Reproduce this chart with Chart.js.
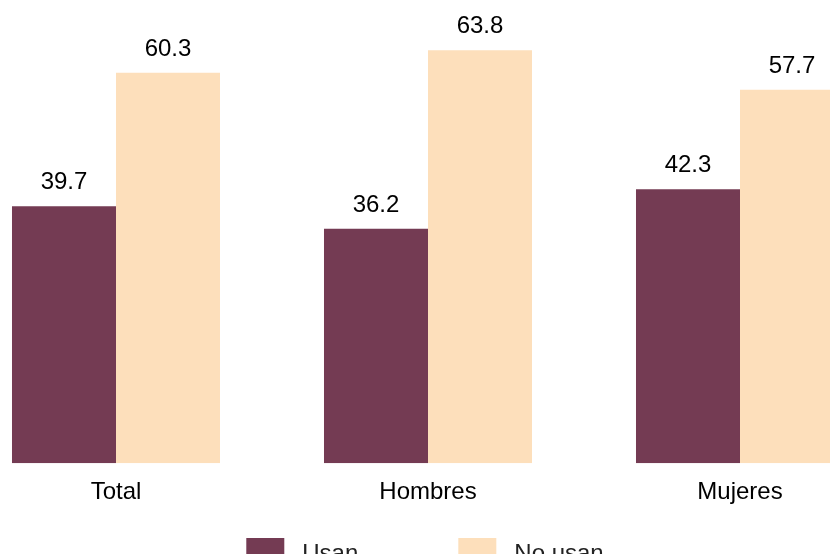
<!DOCTYPE html>
<html lang="es">
<head>
    <meta charset="UTF-8">
    <title>Usan / No usan</title>
    <script src="https://cdn.jsdelivr.net/npm/chart.js"></script>
    <style>
        html, body { margin: 0; padding: 0; background: #fff; overflow: hidden; }
        #wrap { width: 830px; height: 554px; overflow: hidden; position: relative; }
        #chartBox { position: absolute; left: -40px; top: 0; width: 936px; height: 575px; }
    </style>
</head>
<body>
    <div id="wrap">
        <div id="chartBox"><canvas id="usoChart"></canvas></div>
    </div>

    <script>
        const categories = ['Total', 'Hombres', 'Mujeres'];
        const usan = [39.7, 36.2, 42.3];
        const noUsan = [60.3, 63.8, 57.7];
        const seriesNames = ['Usan', 'No usan'];
        const FONT = '"Liberation Sans", Arial, sans-serif';

        // numbers above each bar
        const valueLabels = {
            id: 'valueLabels',
            afterDatasetsDraw(chart) {
                const ctx = chart.ctx;
                ctx.save();
                ctx.font = '24px ' + FONT;
                ctx.fillStyle = '#000';
                ctx.textAlign = 'center';
                ctx.textBaseline = 'alphabetic';
                chart.data.datasets.forEach((ds, i) => {
                    chart.getDatasetMeta(i).data.forEach((bar, j) => {
                        ctx.fillText(ds.data[j].toFixed(1), bar.x, bar.y - 17);
                    });
                });
                ctx.restore();
            }
        };

        // legend drawn by hand to get the wide spacing
        const wideLegend = {
            id: 'wideLegend',
            afterDraw(chart) {
                const ctx = chart.ctx;
                const boxW = 38, boxH = 20, gap = 18, between = 100;
                const cy = 548;
                ctx.save();
                ctx.font = '24px ' + FONT;
                const items = chart.data.datasets.map(ds => ({
                    text: ds.label, color: ds.backgroundColor,
                    w: boxW + gap + ctx.measureText(ds.label).width
                }));
                const total = items.reduce((s, it) => s + it.w, 0) + between * (items.length - 1);
                let x = 465 - total / 2;
                ctx.textBaseline = 'middle';
                ctx.textAlign = 'left';
                items.forEach(it => {
                    ctx.fillStyle = it.color;
                    ctx.fillRect(x, cy - boxH / 2, boxW, boxH);
                    ctx.fillStyle = '#222';
                    ctx.fillText(it.text, x + boxW + gap, cy + 6);
                    x += it.w + between;
                });
                ctx.restore();
            }
        };

        new Chart(document.getElementById('usoChart'), {
            type: 'bar',
            data: {
                labels: categories,
                datasets: [
                    { label: seriesNames[0], data: usan, backgroundColor: '#743B53' },
                    { label: seriesNames[1], data: noUsan, backgroundColor: '#FDDFBB' }
                ]
            },
            options: {
                responsive: true,
                maintainAspectRatio: false,
                animation: false,
                devicePixelRatio: 1,
                layout: { padding: { top: 10, bottom: 53, left: 0, right: 0 } },
                datasets: {
                    bar: { categoryPercentage: 0.6667, barPercentage: 1.0 }
                },
                plugins: {
                    legend: { display: false },
                    tooltip: { enabled: false }
                },
                scales: {
                    x: {
                        grid: { display: false, drawTicks: false },
                        border: { display: false },
                        ticks: { color: '#000', font: { family: FONT, size: 24 }, padding: 15 }
                    },
                    y: {
                        display: false,
                        min: 0,
                        max: 70
                    }
                }
            },
            plugins: [valueLabels, wideLegend]
        });
    </script>
</body>
</html>
